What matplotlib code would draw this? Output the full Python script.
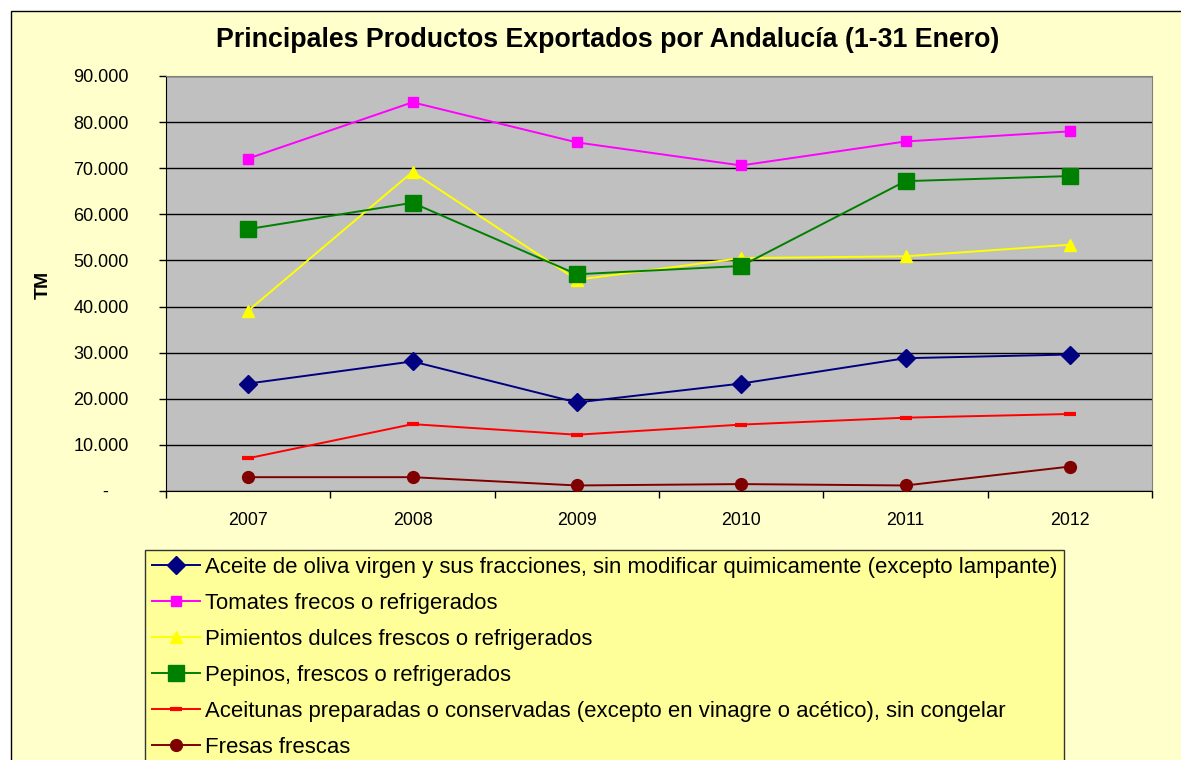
import matplotlib
matplotlib.use("Agg")
import matplotlib.pyplot as plt
from matplotlib.patches import Rectangle
from matplotlib.ticker import FuncFormatter, FixedLocator

plt.rcParams['font.family'] = ['Liberation Sans', 'DejaVu Sans']

years = ['2007', '2008', '2009', '2010', '2011', '2012']
aceite_oliva = [23300, 28100, 19200, 23300, 28800, 29600]
tomates = [72100, 84300, 75600, 70600, 75800, 78000]
pimientos = [39100, 69200, 45800, 50500, 50900, 53400]
pepinos = [56800, 62500, 47000, 48800, 67200, 68300]
aceitunas = [7100, 14500, 12200, 14400, 15900, 16700]
fresas = [3000, 3000, 1200, 1500, 1200, 5300]

labels = [
    'Aceite de oliva virgen y sus fracciones, sin modificar quimicamente (excepto lampante)',
    'Tomates frecos o refrigerados',
    'Pimientos dulces frescos o refrigerados',
    'Pepinos, frescos o refrigerados',
    'Aceitunas preparadas o conservadas (excepto en vinagre o acético), sin congelar',
    'Fresas frescas',
]
series = [aceite_oliva, tomates, pimientos, pepinos, aceitunas, fresas]
colors = ['#000080', '#FF00FF', '#FFFF00', '#008000', '#FF0000', '#800000']
markers = ['D', 's', '^', 's', '_', 'o']
msizes = [9, 7, 8.5, 11, 8, 8.5]
mews = [1, 1, 1, 1, 3, 1]

W, H = 1181, 760
fig = plt.figure(figsize=(W / 100, H / 100), dpi=100)
fig.patch.set_facecolor('white')

# chart frame
frame = Rectangle((11 / W, -0.1), 1.2, 1.1 - 11 / H, transform=fig.transFigure,
                  facecolor='#FFFFCC', edgecolor='black', linewidth=1, zorder=-10)
fig.patches.append(frame)

ax = fig.add_axes([166 / W, 1 - 491 / H, (1152 - 166) / W, (491 - 76) / H])
ax.set_facecolor('#C0C0C0')
x = list(range(len(years)))
handles = []
for s, c, m, ms, mew, lab in zip(series, colors, markers, msizes, mews, labels):
    h, = ax.plot(x, s, color=c, marker=m, markersize=ms, markeredgewidth=mew,
                 markerfacecolor=c, markeredgecolor=c, linewidth=1.4, label=lab,
                 clip_on=False, zorder=3)
    handles.append(h)

ax.set_xlim(-0.5, len(years) - 0.5)
ax.set_ylim(0, 90000)
ax.set_yticks(range(0, 90001, 10000))
ax.yaxis.set_major_formatter(FuncFormatter(
    lambda v, p: '-    ' if v == 0 else f'{int(v):,}'.replace(',', '.')))
ax.grid(axis='y', color='black', linewidth=1)
ax.set_axisbelow(True)

ax.set_xticks(x)
ax.set_xticklabels(years)
ax.xaxis.set_minor_locator(FixedLocator([i - 0.5 for i in range(len(years) + 1)]))
ax.tick_params(axis='x', which='major', length=0, pad=15, labelsize=12.8)
ax.tick_params(axis='x', which='minor', length=5, width=1, direction='out')
ax.tick_params(axis='y', length=5, width=1, direction='out', labelsize=13, pad=22)

for sp in ['top', 'right']:
    ax.spines[sp].set_color('#808080')
for sp in ['left', 'bottom']:
    ax.spines[sp].set_color('black')

fig.text(43 / W, 1 - 285 / H, 'TM', rotation=90, fontsize=14, fontweight='bold',
         ha='center', va='center')
fig.text(608 / W, 1 - 40 / H, 'Principales Productos Exportados por Andalucía (1-31 Enero)',
         fontsize=19.3, fontweight='bold', ha='center', va='center')

leg = fig.legend(handles=handles, loc='upper left', bbox_to_anchor=(145 / W, 1 - 550 / H),
                 bbox_transform=fig.transFigure, fontsize=15.9, frameon=True,
                 fancybox=False, borderaxespad=0, borderpad=0.3, handlelength=2.2,
                 handletextpad=0.2, labelspacing=0.68, framealpha=1)
leg.get_frame().set_facecolor('#FFFF99')
leg.get_frame().set_edgecolor('#333333')
leg.get_frame().set_linewidth(1)

fig.savefig('out.png', dpi=100)
